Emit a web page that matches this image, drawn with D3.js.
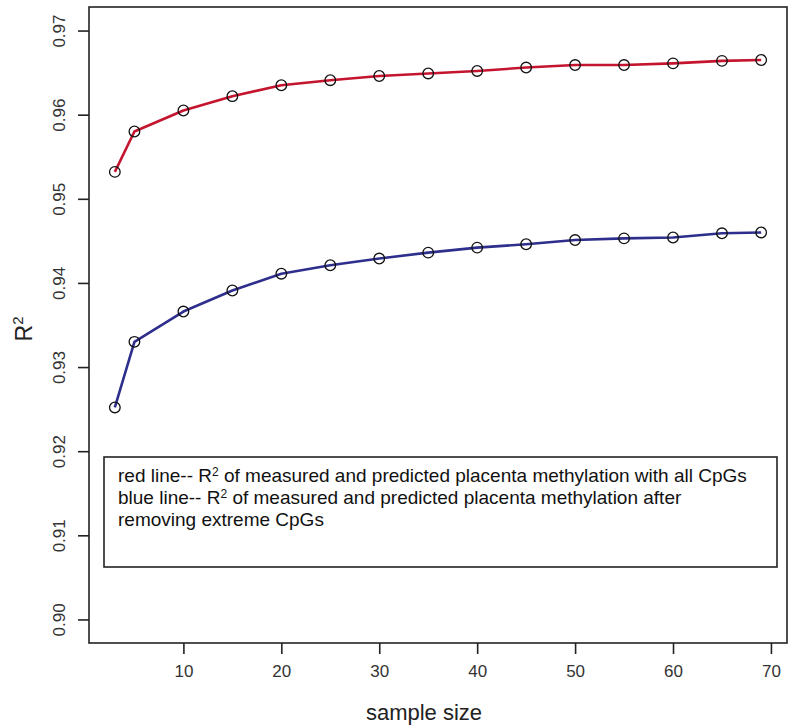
<!DOCTYPE html>
<html>
<head>
<meta charset="utf-8">
<script src="https://cdn.jsdelivr.net/npm/d3@7"></script>
<style>
  body { margin: 0; background: #fff; }
  svg { display: block; font-family: "Liberation Sans", Arial, Helvetica, sans-serif; }
</style>
</head>
<body>
<svg id="chart" width="800" height="727"></svg>
<script>
const sampleSizes = [3, 5, 10, 15, 20, 25, 30, 35, 40, 45, 50, 55, 60, 65, 69];
const redValues  = [0.9532, 0.9580, 0.9605, 0.9622, 0.9635, 0.9641, 0.9646, 0.9649, 0.9652, 0.9656, 0.9659, 0.9659, 0.9661, 0.9664, 0.9665];
const blueValues = [0.9252, 0.9330, 0.9366, 0.9391, 0.9411, 0.9421, 0.9429, 0.9436, 0.9442, 0.9446, 0.9451, 0.9453, 0.9454, 0.9459, 0.9460];
const xTicks = [10, 20, 30, 40, 50, 60, 70];
const yTicks = [0.90, 0.91, 0.92, 0.93, 0.94, 0.95, 0.96, 0.97];
const xTitle = "sample size";
const legendLines = [
  ["red line-- R", "2", " of measured and predicted placenta methylation with all CpGs"],
  ["blue line-- R", "2", " of measured and predicted placenta methylation after"],
  ["removing extreme CpGs", "", ""]
];

const svg = d3.select("#chart");
const L = 89, R = 787, T = 7, B = 643;

const xr = d3.extent(sampleSizes), xpad = (xr[1] - xr[0]) * 0.04;
const x = d3.scaleLinear().domain([xr[0] - xpad, xr[1] + xpad]).range([L, R]);
const yr = [0.90, 0.97], ypad = (yr[1] - yr[0]) * 0.04;
const y = d3.scaleLinear().domain([yr[0] - ypad, yr[1] + ypad]).range([B, T]);

// box
svg.append("rect").attr("x", L).attr("y", T).attr("width", R - L).attr("height", B - T)
  .attr("fill", "none").attr("stroke", "#222").attr("stroke-width", 1.6);

// x axis
const xAxis = svg.append("g").attr("transform", `translate(0,${B})`)
  .call(d3.axisBottom(x).tickValues(xTicks).tickSize(11).tickPadding(6).tickFormat(d3.format("d")));
xAxis.select(".domain").remove();
xAxis.selectAll(".tick line").attr("stroke", "#222").attr("stroke-width", 1.6);
xAxis.selectAll(".tick text").attr("font-size", 17).attr("fill", "#333")
  .attr("font-family", "Liberation Sans, Arial, sans-serif").attr("dy", "1.0em");

// y axis
const yAxis = svg.append("g").attr("transform", `translate(${L},0)`)
  .call(d3.axisLeft(y).tickValues(yTicks).tickSize(11).tickFormat(d3.format(".2f")));
yAxis.select(".domain").remove();
yAxis.selectAll(".tick line").attr("stroke", "#222").attr("stroke-width", 1.6);
yAxis.selectAll(".tick text")
  .attr("x", null).attr("dy", null)
  .attr("text-anchor", "middle").attr("dominant-baseline", "central")
  .attr("transform", "translate(-30,0) rotate(-90)")
  .attr("font-size", 17).attr("fill", "#333")
  .attr("font-family", "Liberation Sans, Arial, sans-serif");

// titles
svg.append("text").attr("x", (L + R) / 2 - 14).attr("y", 720).attr("text-anchor", "middle")
  .attr("font-size", 22).attr("fill", "#222").text(xTitle);
const yt = svg.append("text").attr("transform", `translate(32,${(T + B) / 2 + 4}) rotate(-90)`)
  .attr("text-anchor", "middle").attr("font-size", 23).attr("fill", "#222");
yt.append("tspan").text("R");
yt.append("tspan").attr("dy", -9).attr("font-size", 15).text("2");

// lines
const line = d3.line().x((d, i) => x(sampleSizes[i])).y(d => y(d));
const series = [{v: redValues, c: "#c4142e"}, {v: blueValues, c: "#2e2e8c"}];
series.forEach(s => {
  svg.append("path").datum(s.v).attr("d", line).attr("fill", "none")
    .attr("stroke", s.c).attr("stroke-width", 2.6).attr("stroke-linejoin", "round");
  svg.append("g").selectAll("circle").data(s.v).join("circle")
    .attr("cx", (d, i) => x(sampleSizes[i])).attr("cy", d => y(d)).attr("r", 5.3)
    .attr("fill", "none").attr("stroke", "#111").attr("stroke-width", 1.3);
});

// legend box
svg.append("rect").attr("x", 104).attr("y", 457).attr("width", 673).attr("height", 110)
  .attr("fill", "#fff").attr("stroke", "#222").attr("stroke-width", 1.6);
legendLines.forEach((ln, i) => {
  const t = svg.append("text").attr("x", 118).attr("y", 482 + i * 22)
    .attr("font-size", 19).attr("fill", "#111");
  t.append("tspan").text(ln[0]);
  if (ln[1]) {
    t.append("tspan").attr("dy", -6).attr("font-size", 12).text(ln[1]);
    t.append("tspan").attr("dy", 6).text(ln[2]);
  }
});
</script>
</body>
</html>
